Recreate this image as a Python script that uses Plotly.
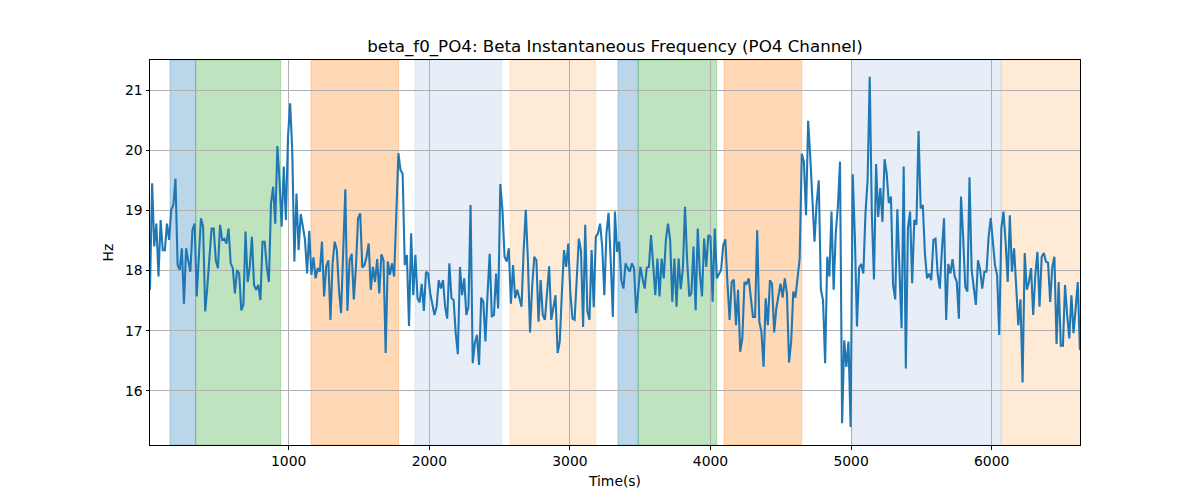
import plotly.graph_objects as go

# ---- data ----
t_start = 13.5      # first sample time (s)
t_step = 15.1       # sampling interval (s)

f0_part1 = [17.68, 19.45, 18.40, 18.78, 17.90, 18.84, 18.34, 18.34, 18.78, 18.51,
            19.01, 19.09, 19.53, 18.09, 18.01, 18.37, 17.45, 18.37, 18.17, 17.98,
            18.67, 18.78, 17.57, 18.29, 18.87, 18.73, 17.32, 17.73, 18.23, 18.70,
            18.70, 18.17, 18.04, 18.76, 18.51, 18.53, 18.45, 18.70, 18.12, 18.04,
            17.62, 18.01, 17.95, 17.34, 17.43, 18.65, 17.81, 18.06, 18.56, 17.76,
            17.68, 17.76, 17.51, 18.48, 18.48, 18.06, 17.81, 19.12, 19.39, 18.78,
            20.07, 19.50, 18.73, 19.73, 18.84, 20.22, 20.78, 20.00, 18.15, 19.28]
f0_part2 = [18.34, 18.94, 18.73, 18.51, 17.95, 18.66, 17.93, 18.22, 17.87, 18.04,
            17.98, 18.48, 17.57, 18.07, 18.17, 17.18, 18.12, 18.48, 18.34, 17.68,
            17.29, 18.17, 19.35, 17.33, 18.17, 18.28, 17.52, 18.06, 18.87, 18.95,
            18.05, 18.09, 18.23, 18.45, 17.68, 18.06, 17.81, 18.19, 17.62, 18.27,
            18.17, 16.63, 18.15, 17.93, 18.12, 17.90, 18.89, 19.95, 19.67, 19.61,
            18.09, 18.26, 17.08, 18.62, 17.59, 18.26, 17.54, 17.47, 17.78, 17.33,
            17.98, 17.95, 17.62, 17.45, 17.26, 17.40, 17.84, 17.70, 17.84, 17.40,
            17.20]
f0_part3 = [18.12, 17.54, 17.51, 16.96, 16.61, 18.06, 17.59, 17.87, 17.26, 17.40,
            19.09, 16.46, 16.79, 16.93, 16.43, 17.55, 17.48, 16.82, 17.62, 18.28,
            17.24, 17.26, 17.95, 17.37, 19.44, 19.01, 18.23, 18.15, 18.37, 17.45,
            18.09, 17.54, 17.68, 17.54, 17.40, 18.34, 19.01, 18.17, 16.97, 17.73,
            18.23, 18.17, 17.15, 17.84, 17.26, 17.18, 17.62, 18.07, 17.18, 17.37,
            17.59, 16.63, 16.82, 17.62, 18.34, 18.06, 18.45, 17.62, 17.20, 17.18,
            17.93, 18.53, 18.33, 17.06, 18.76, 17.33, 17.18, 18.34, 17.39, 18.56,
            18.62]
f0_part4 = [18.78, 18.40, 17.59, 18.62, 18.96, 18.17, 17.23, 18.98, 18.31, 18.48,
            17.84, 17.70, 18.12, 18.04, 17.98, 18.12, 18.04, 17.29, 17.73, 18.06,
            17.87, 17.70, 18.05, 18.06, 18.59, 18.12, 17.59, 18.20, 17.57, 18.20,
            17.87, 18.51, 18.78, 18.51, 17.48, 18.20, 17.40, 18.20, 17.69, 18.04,
            19.06, 18.17, 17.57, 17.62, 18.40, 17.34, 18.70, 17.95, 17.57, 18.53,
            18.06, 18.59, 18.56, 17.48, 18.70, 17.87, 17.93, 18.01, 18.42, 18.52,
            17.79, 17.18, 17.81, 17.85, 17.09, 17.68, 16.65, 16.87, 17.81, 17.78]
f0_part5 = [17.87, 17.51, 17.23, 17.23, 18.67, 17.15, 16.98, 16.40, 17.54, 17.09,
            17.84, 17.78, 16.97, 17.37, 17.62, 17.78, 17.55, 17.87, 17.62, 16.47,
            16.82, 17.65, 17.55, 17.90, 18.20, 19.94, 19.81, 18.92, 20.49, 19.89,
            19.17, 18.48, 19.12, 19.50, 17.68, 17.51, 16.46, 18.23, 17.90, 18.98,
            17.68, 18.62, 19.06, 19.81, 15.46, 16.84, 16.40, 16.82, 15.40, 19.60,
            18.56, 17.07, 18.04, 18.11, 17.95, 18.95, 19.50, 21.22, 18.95, 17.85,
            19.77, 18.89, 19.37, 18.81, 19.85, 19.61, 19.12, 19.23, 17.76, 17.52,
            19.02, 18.17]
f0_part6 = [17.04, 19.73, 16.37, 18.70, 18.98, 17.79, 18.84, 18.76, 20.32, 19.03,
            19.09, 18.28, 17.87, 17.95, 17.84, 18.51, 18.53, 17.95, 17.70, 18.34,
            18.87, 17.18, 18.11, 17.95, 18.19, 17.91, 17.81, 17.20, 19.23, 18.56,
            17.73, 17.65, 19.55, 18.01, 17.73, 17.43, 18.17, 18.01, 17.70, 17.98,
            17.98, 18.56, 18.87, 18.45, 18.09, 17.93, 16.93, 18.70, 18.98, 18.48,
            17.81, 18.92, 17.98, 18.37, 17.68, 17.09, 17.52, 16.14, 18.29, 17.68,
            17.81, 18.04, 17.26, 17.93, 18.31, 17.40, 18.23, 18.29, 18.15, 18.13,
            17.48, 18.06, 18.23, 16.78, 17.81, 16.75, 16.75, 17.76, 17.26, 16.87,
            17.59, 16.96, 17.37, 17.81, 16.68]

# shaded intervals: (start, end, colour)
span_starts = [155.8, 338.6, 1158.6, 1898, 2574, 3342, 3486, 4096, 5008, 6068]
span_ends = [338.6, 943, 1782, 2515, 3183, 3486, 4044, 4649, 6068, 6700]
span_colors = ["#1f77b4", "#2ca02c", "#ff7f0e", "#aec7e8", "#ffbb78",
               "#1f77b4", "#2ca02c", "#ff7f0e", "#aec7e8", "#ffbb78"]

x_ticks = [1000, 2000, 3000, 4000, 5000, 6000]
y_ticks = [16, 17, 18, 19, 20, 21]
x_range = [13.5, 6628]
y_range = [15.1, 21.5]

# ---- build ----
freq = f0_part1 + f0_part2 + f0_part3 + f0_part4 + f0_part5 + f0_part6
times = [t_start + i * t_step for i in range(len(freq))]


def rgba(hex_color, a):
    h = hex_color.lstrip("#")
    r, g, b = int(h[0:2], 16), int(h[2:4], 16), int(h[4:6], 16)
    return f"rgba({r},{g},{b},{a})"


fig = go.Figure()
fig.add_trace(go.Scatter(x=times, y=freq, mode="lines",
                         line=dict(color="#1f77b4", width=2.08),
                         showlegend=False, hoverinfo="x+y"))

for s, e, c in zip(span_starts, span_ends, span_colors):
    fig.add_shape(type="rect", xref="x", yref="paper", x0=s, x1=e, y0=0, y1=1,
                  fillcolor=rgba(c, 0.3), line=dict(color=rgba(c, 0.3), width=1),
                  layer="below")

font = "DejaVu Sans, Liberation Sans, sans-serif"
fig.update_layout(
    width=1200, height=500,
    margin=dict(l=150, r=120, t=60, b=55),
    paper_bgcolor="white", plot_bgcolor="white",
    font=dict(family=font, size=13.9, color="black"),
    title=dict(text="beta_f0_PO4: Beta Instantaneous Frequency (PO4 Channel)",
               x=0.5125, xanchor="center", y=1 - 46 / 500, yanchor="middle",
               yref="container", font=dict(size=16.7, family=font, color="black")),
)
fig.update_xaxes(range=x_range, tickvals=x_ticks, ticktext=[str(v) for v in x_ticks],
                 showgrid=True, gridcolor="#b0b0b0", gridwidth=0.8,
                 showline=True, linecolor="black", linewidth=1, mirror=True,
                 ticks="outside", ticklen=3.5, tickwidth=0.8, tickcolor="black",
                 zeroline=False,
                 title=dict(text="Time(s)", font=dict(size=13.9, family=font), standoff=8))
fig.update_yaxes(range=y_range, tickvals=y_ticks, ticktext=[str(v) for v in y_ticks],
                 showgrid=True, gridcolor="#b0b0b0", gridwidth=0.8,
                 showline=True, linecolor="black", linewidth=1, mirror=True,
                 ticks="outside", ticklen=3.5, tickwidth=0.8, tickcolor="black",
                 zeroline=False,
                 title=dict(text="Hz", font=dict(size=13.9, family=font), standoff=8))

fig.write_html("out.html", config={"displayModeBar": False},
               post_script="document.body.style.margin='0';document.body.style.padding='0';")
